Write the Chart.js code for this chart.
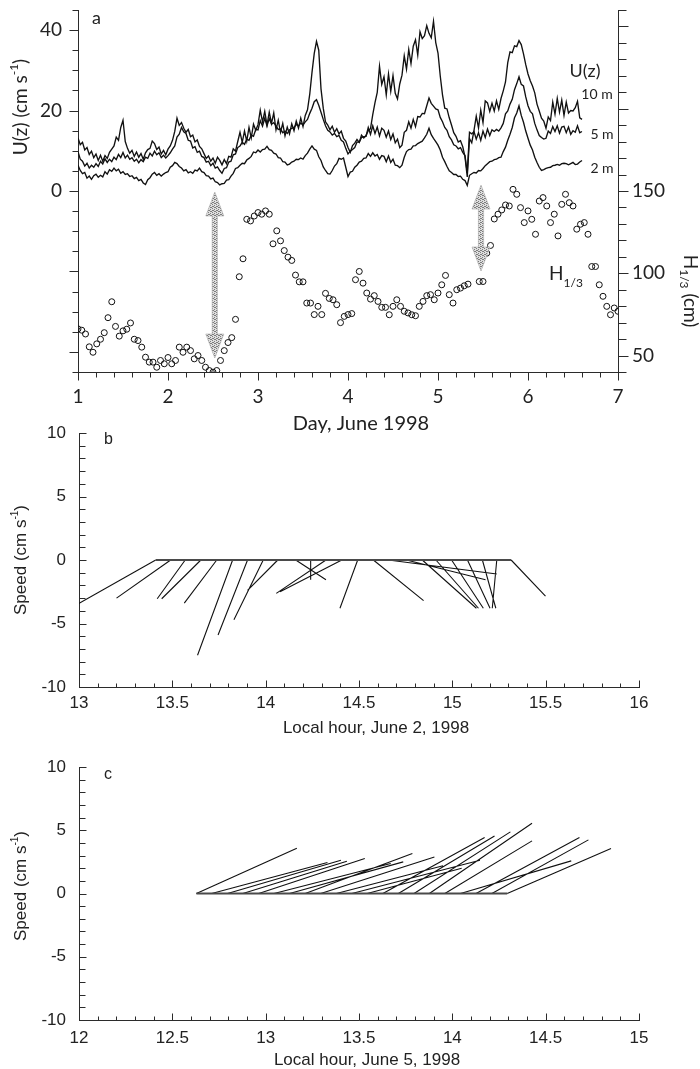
<!DOCTYPE html>
<html><head><meta charset="utf-8">
<script src="https://cdn.jsdelivr.net/npm/chart.js@4.4.1/dist/chart.umd.min.js"></script>
<style>
html,body{margin:0;padding:0;background:#fff;}
#wrap{position:relative;width:700px;height:1069px;overflow:hidden;background:#fff;}
.pane{position:absolute;left:0;width:700px;}
canvas{display:block;}
</style></head><body>
<div id="wrap">
<div class="pane" style="top:0;height:440px"><canvas id="ca" width="700" height="440"></canvas></div>
<div class="pane" style="top:420px;height:320px"><canvas id="cb" width="700" height="320"></canvas></div>
<div class="pane" style="top:750px;height:319px"><canvas id="cc" width="700" height="319"></canvas></div>
</div>
<script>
// ---------------- DATA ----------------
// Panel a: current speed U(z) (cm/s), sampled every 0.025 day from day 1.0
const uStartDay = 1.0, uStepDay = 0.025;
const u10m = [
13.2,11.5,12.1,10.2,10.8,9.1,9.9,8.3,
9.2,7.6,8.9,7.4,8.8,8.1,9.6,10.4,
11.2,13.4,12.6,15.8,17.6,12.3,10.6,9.4,
10.1,8.6,9.7,8.4,9.3,7.9,9.5,10.3,
10.6,12.4,11.8,10.3,10.9,9.2,10.1,9.0,
10.4,11.2,12.6,14.8,18.1,16.3,17.0,15.6,
14.6,15.3,13.5,13.9,12.2,12.7,11.1,10.5,
9.3,8.1,8.7,7.4,8.2,6.9,8.4,7.6,
6.5,7.8,6.8,8.6,8.4,10.5,9.9,12.3,
14.6,12.1,14.9,12.4,15.8,13.2,16.6,15.1,
16.5,20.1,17.2,19.8,16.4,19.6,16.8,19.4,
15.2,17.6,14.6,16.8,13.7,15.9,14.2,16.7,
15.0,17.4,15.6,18.1,16.0,18.8,20.2,24.1,
29.5,34.2,37.2,35.0,25.4,20.6,17.2,16.4,
15.2,16.1,14.6,15.5,14.2,14.9,13.1,12.4,
10.8,9.6,11.3,11.9,12.8,12.1,13.9,13.2,
13.8,15.0,15.5,19.0,22.0,24.5,31.0,26.5,
28.4,23.9,29.1,24.8,28.7,24.3,22.9,26.6,
28.8,33.6,30.3,35.2,31.7,36.0,37.6,33.8,
39.6,37.9,38.6,41.1,39.2,38.1,42.2,36.9,
34.3,28.6,23.9,20.6,20.4,18.2,16.4,14.5,
13.6,12.2,12.5,11.0,8.5,3.5,13.0,12.0,
15.1,18.6,15.7,20.1,17.0,22.4,21.9,19.8,
21.8,19.9,22.4,20.3,23.0,24.9,27.1,31.9,
34.6,34.4,36.1,35.9,37.4,36.4,34.1,31.4,
29.1,27.4,26.1,24.4,21.6,19.9,18.1,17.4,
15.6,18.4,17.5,22.1,19.1,23.0,19.6,22.6,
18.8,22.1,19.4,20.0,19.9,20.7,22.3,18.2,17.8
];
const u5m = [
9.8,7.9,7.4,6.2,6.9,5.7,6.4,5.9,
6.8,6.1,7.4,6.7,8.0,7.1,7.9,7.3,
8.4,7.8,9.1,8.3,9.6,8.2,8.9,7.9,
8.3,7.4,7.9,7.0,7.8,7.3,8.4,8.1,
9.4,8.7,9.9,9.0,9.5,8.3,8.9,8.2,
8.8,9.5,10.4,11.2,13.4,14.1,15.8,14.7,
14.3,12.6,12.4,10.7,11.0,9.6,9.9,8.6,
8.3,7.2,7.4,6.3,6.9,5.7,6.0,5.1,
4.4,5.6,5.8,7.2,7.4,9.0,9.2,10.8,
11.2,12.1,11.6,12.9,12.6,13.9,13.6,15.3,
15.2,17.5,16.1,18.1,16.2,18.0,16.6,17.0,
16.2,15.3,15.4,14.5,14.9,14.3,15.2,15.6,
15.8,16.5,16.2,16.9,16.4,17.2,17.8,19.3,
20.6,22.2,22.7,21.3,19.6,17.8,16.2,15.1,
14.7,13.9,14.3,13.5,13.8,12.6,12.2,10.6,
9.2,9.9,10.3,10.8,12.2,12.1,13.3,13.5,
13.6,15.8,14.1,16.2,14.3,15.9,13.7,15.6,
15.1,13.4,14.9,12.8,14.2,12.0,12.9,10.8,
11.4,14.6,15.1,17.2,15.6,17.8,16.0,18.5,
18.4,19.3,19.2,21.2,23.1,21.8,21.1,20.4,
20.2,18.3,17.2,15.8,15.1,13.5,12.7,11.5,
11.2,10.5,10.8,9.6,8.8,4.5,14.6,14.2,
14.8,12.9,14.5,12.6,14.9,13.3,15.4,13.8,
15.2,14.8,15.3,14.9,15.7,16.8,19.2,19.9,
21.6,22.8,25.2,26.7,28.4,26.5,26.1,23.4,
21.2,19.8,19.2,16.8,15.2,13.8,13.3,12.9,
13.1,14.9,14.3,16.0,14.8,16.2,14.4,15.9,
16.1,14.5,15.9,14.1,15.0,14.6,16.2,14.5,14.8
];
const u2m = [
6.4,5.1,4.3,4.6,3.2,3.7,2.9,3.8,
4.2,3.4,3.9,3.5,4.8,4.2,5.3,4.9,
5.7,5.0,5.4,4.4,4.8,4.1,4.3,3.6,
3.8,3.1,3.4,2.6,2.9,2.0,1.6,2.8,
3.3,4.2,4.6,3.9,4.3,3.7,4.2,4.6,
4.8,5.9,6.3,7.1,6.8,6.1,5.7,5.0,
5.3,4.5,4.8,4.4,5.2,5.0,5.7,4.8,
4.6,3.8,3.7,3.0,3.2,2.3,2.1,1.5,
1.8,1.9,2.7,2.8,3.7,4.4,5.6,5.8,
6.4,6.9,6.8,7.7,8.1,8.6,9.7,9.5,
10.2,9.7,10.3,10.4,11.1,10.3,10.1,9.4,
9.2,8.3,8.2,7.3,7.2,6.5,6.7,7.2,
7.4,7.9,7.8,8.2,7.9,8.8,9.4,10.4,
11.2,10.4,10.1,8.5,7.6,6.0,5.1,4.3,
4.2,5.1,6.2,6.8,8.1,7.9,8.2,5.9,
3.6,4.7,4.9,5.9,6.4,7.2,7.4,8.1,
8.2,9.3,8.6,9.5,8.7,9.1,7.9,8.8,
8.6,7.3,8.7,7.1,7.9,6.4,6.3,5.8,
6.4,8.4,9.8,10.3,10.4,11.2,11.3,11.8,
12.1,12.4,13.2,14.1,15.6,14.0,13.1,12.3,
11.4,10.2,8.4,7.3,6.1,5.0,4.6,4.1,
4.1,3.6,3.7,2.9,2.6,1.4,3.9,4.3,
4.6,4.5,5.1,5.0,5.6,6.3,6.8,7.3,
7.4,7.8,7.9,8.3,8.4,9.8,10.9,12.6,
14.1,15.8,18.2,19.4,21.2,18.8,17.1,14.9,
13.1,11.4,10.2,8.4,7.1,5.9,5.1,5.3,
5.6,5.8,5.9,6.3,6.4,6.6,6.4,6.8,
6.9,6.8,6.5,6.8,7.1,6.6,6.7,7.2,7.6
];
// Panel a: significant wave height H1/3 (cm), hourly from day 1.0 (null = no data)
const hStartDay = 1.0, hStepDay = 1/24;
const h13 = [
66.2,65.4,63.1,55.3,52.0,57.1,59.9,63.9,73.0,82.7,67.7,61.8,65.0,66.0,69.8,59.9,59.1,55.1,49.0,46.0,46.0,42.9,47.0,45.0,
48.8,45.0,47.0,55.1,52.0,55.1,53.0,48.0,50.0,47.0,42.9,40.9,39.9,40.9,47.0,53.0,57.9,60.9,72.0,97.9,108.8,132.8,131.8,134.8,
136.9,135.9,137.9,135.9,117.9,125.8,119.7,113.8,109.8,107.8,98.9,94.8,94.8,81.9,81.9,74.9,79.9,74.9,87.8,84.7,83.9,80.9,70.0,73.8,
74.9,75.5,96.1,101.1,94.0,88.0,84.3,86.4,82.9,79.3,79.3,74.8,79.9,83.9,79.9,76.9,75.9,74.8,74.2,79.9,82.9,86.4,87.0,83.9,
88.0,93.0,98.7,87.0,81.9,90.0,91.0,92.4,93.4,null,null,95.0,95.0,112.2,116.9,133.0,135.9,138.5,141.5,140.9,151.0,148.0,139.9,130.8,
137.9,132.8,123.7,143.9,146.0,140.9,130.8,135.9,122.7,141.9,148.0,142.9,140.9,126.8,129.8,130.8,123.7,104.1,104.1,93.0,86.0,79.9,74.8,78.9,
76.9
];
// Panel a: double arrows (day, H1/3 at top tip, H1/3 at bottom tip)
const arrowDay = [2.52, 5.478];
const arrowTopH = [149.4, 153.6];
const arrowBotH = [48.5, 101.4];

// Panel b: stick vectors, June 2 (origin hour on 0 line -> tip hour, tip speed)
const bHour0 = [13.411,13.491,13.569,13.653,13.738,13.823,13.903,13.987,14.065,14.161,14.241,14.323,14.408,14.493,14.577,14.657,14.754,14.839,14.912,14.996,15.081,15.161,15.238,15.315];
const bHour1 = [12.99,13.201,13.419,13.443,13.564,13.635,13.745,13.830,13.903,14.323,14.241,14.057,14.077,14.398,14.846,15.238,15.178,15.129,15.140,15.166,15.202,15.233,15.214,15.499];
const bSpeed1 = [-3.5,-3.0,-3.05,-3.05,-3.4,-7.5,-5.9,-4.7,-2.4,-1.55,-1.55,-2.63,-2.5,-3.8,-3.2,-1.1,-1.55,-3.8,-3.8,-3.8,-3.8,-3.8,-3.8,-2.85];
// Panel c: stick vectors, June 5
const cHour0 = [12.629,12.711,12.796,12.878,12.963,13.045,13.128,13.212,13.295,13.379,13.462,13.544,13.628,13.711,13.795,13.877,13.960,14.044,14.127,14.212,14.294];
const cHour1 = [13.167,13.331,13.403,13.435,13.531,13.670,13.737,13.786,13.904,13.950,14.148,14.050,14.173,14.226,14.311,14.427,14.427,14.637,14.681,14.729,14.850];
const cSpeed1 = [3.58,2.45,2.63,2.55,2.76,2.37,2.5,3.16,2.89,2.2,2.63,2.0,4.42,4.55,4.87,5.55,4.16,2.58,4.42,4.24,3.55];

// ---------------- STYLE ----------------
const AX = '#2b2b2b', INK = '#111', TXT = '#222';
const FA = "Lato, 'Open Sans', sans-serif";
const FB = "'Liberation Sans', Arial, sans-serif";
const near = q => Math.abs(q - Math.round(q)) < 1e-6;

// tick-mark specs (drawn through the scales)
const TICKS = {
  ca: { x:{out:true,minor:5,major:8,isMajor:v=>near(v)},
        y:{out:true,minor:6,major:9,isMajor:v=>near(v/20)},
        y2:{out:true,minor:8,major:10,isMajor:v=>near(v/50)} },
  cb: { x:{out:false,minor:4,major:7,isMajor:v=>near(v*2)},
        y:{out:false,minor:6,major:7,isMajor:v=>near(v/5)} },
  cc: { x:{out:false,minor:4,major:7,isMajor:v=>near(v*2)},
        y:{out:false,minor:6,major:7,isMajor:v=>near(v/5)} }
};
const tickMarks = {
  id:'tickMarks',
  afterDraw(chart){
    const spec = TICKS[chart.canvas.id]; if(!spec) return;
    const ctx = chart.ctx; ctx.save(); ctx.strokeStyle = AX; ctx.lineWidth = 1;
    for (const id in spec){
      const s = chart.scales[id], sp = spec[id], sg = sp.out ? 1 : -1;
      for (const t of s.ticks){
        const len = sp.isMajor(t.value) ? sp.major : sp.minor;
        const p = Math.round(s.getPixelForValue(t.value)) + 0.5;
        ctx.beginPath();
        if (s.position === 'left'){ const b = Math.round(s.right)+0.5; ctx.moveTo(b,p); ctx.lineTo(b - sg*len,p); }
        else if (s.position === 'right'){ const b = Math.round(s.left)+0.5; ctx.moveTo(b,p); ctx.lineTo(b + sg*len,p); }
        else { const b = Math.round(s.top)+0.5; ctx.moveTo(p,b); ctx.lineTo(p,b + sg*len); }
        ctx.stroke();
      }
    }
    ctx.restore();
  }
};

// rich text (for sub/superscripts), parts drawn in sequence
function drawRich(ctx, parts, x, y, rot, align, family){
  ctx.save(); ctx.translate(x,y); ctx.rotate(rot||0);
  ctx.fillStyle = TXT; ctx.textBaseline = 'middle';
  let total = 0;
  for (const p of parts){ ctx.font = 'normal ' + p.s + 'px ' + family; p.wd = ctx.measureText(p.t).width; total += p.wd; }
  let cx = align === 'center' ? -total/2 : 0;
  for (const p of parts){ ctx.font = 'normal ' + p.s + 'px ' + family; ctx.fillText(p.t, cx, p.dy||0); cx += p.wd; }
  ctx.restore();
}
const TEXTS = {
  ca: [
    {parts:[{t:'a',s:18}], x:92, y:18, rot:0, align:'left', f:FA},
    {parts:[{t:'U(z) (cm s',s:19},{t:'-1',s:12,dy:-7},{t:')',s:19}], x:21, y:107, rot:-Math.PI/2, align:'center', f:FA},
    {parts:[{t:'H',s:19},{t:'1/3',s:12,dy:6},{t:' (cm)',s:19}], x:690, y:291, rot:Math.PI/2, align:'center', f:FA},
    {parts:[{t:'Day, June 1998',s:20}], x:361, y:424, rot:0, align:'center', f:FA},
    {parts:[{t:'U(z)',s:18}], x:585, y:71, rot:0, align:'center', f:FA},
    {parts:[{t:'10 m',s:14}], x:597, y:94, rot:0, align:'center', f:FA},
    {parts:[{t:'5 m',s:14}], x:602, y:134, rot:0, align:'center', f:FA},
    {parts:[{t:'2 m',s:14}], x:602, y:168, rot:0, align:'center', f:FA},
    {parts:[{t:'H',s:19},{t:'1/3',s:12,dy:9}], x:549, y:274, rot:0, align:'left', f:FA}
  ],
  cb: [
    {parts:[{t:'b',s:16}], x:104, y:20, rot:0, align:'left', f:FB},
    {parts:[{t:'Speed (cm s',s:17},{t:'-1',s:10,dy:-6},{t:')',s:17}], x:21, y:140, rot:-Math.PI/2, align:'center', f:FB},
    {parts:[{t:'Local hour, June 2, 1998',s:17}], x:376, y:308, rot:0, align:'center', f:FB}
  ],
  cc: [
    {parts:[{t:'c',s:16}], x:104, y:25, rot:0, align:'left', f:FB},
    {parts:[{t:'Speed (cm s',s:17},{t:'-1',s:10,dy:-6},{t:')',s:17}], x:21, y:136, rot:-Math.PI/2, align:'center', f:FB},
    {parts:[{t:'Local hour, June 5, 1998',s:17}], x:367, y:310, rot:0, align:'center', f:FB}
  ]
};
const textPlugin = {
  id:'textPlugin',
  afterDraw(chart){
    const list = TEXTS[chart.canvas.id]; if(!list) return;
    for (const it of list) drawRich(chart.ctx, it.parts, it.x, it.y, it.rot, it.align, it.f);
  }
};

// stippled pattern for the arrows
function makePattern(ctx){
  const pc = document.createElement('canvas'); pc.width = 4; pc.height = 4;
  const g = pc.getContext('2d'); g.fillStyle = '#dedede'; g.fillRect(0,0,4,4);
  g.fillStyle = '#7e7e7e'; [[0,0],[2,1],[1,2],[3,3],[2,3],[0,2]].forEach(([a,b])=>g.fillRect(a,b,1,1));
  return ctx.createPattern(pc,'repeat');
}
const arrowPlugin = {
  id:'arrowPlugin',
  afterDatasetsDraw(chart){
    if (chart.canvas.id !== 'ca') return;
    const ctx = chart.ctx, xs = chart.scales.x, ys = chart.scales.y2;
    const pat = makePattern(ctx);
    ctx.save();
    for (let i=0;i<arrowDay.length;i++){
      const x = xs.getPixelForValue(arrowDay[i]), t = ys.getPixelForValue(arrowTopH[i]), b = ys.getPixelForValue(arrowBotH[i]);
      const hw = 9, hl = 24, sw = 2.6;
      ctx.beginPath();
      ctx.moveTo(x,t); ctx.lineTo(x+hw,t+hl); ctx.lineTo(x+sw,t+hl); ctx.lineTo(x+sw,b-hl); ctx.lineTo(x+hw,b-hl);
      ctx.lineTo(x,b); ctx.lineTo(x-hw,b-hl); ctx.lineTo(x-sw,b-hl); ctx.lineTo(x-sw,t+hl); ctx.lineTo(x-hw,t+hl); ctx.closePath();
      ctx.fillStyle = pat; ctx.fill();
      ctx.strokeStyle = '#ababab'; ctx.lineWidth = 0.6; ctx.stroke();
    }
    ctx.restore();
  }
};

Chart.register(tickMarks, textPlugin, arrowPlugin);

function axisBase(){ return {grid:{display:true,drawOnChartArea:false,drawTicks:false}, border:{display:true,color:AX,width:1}}; }
function fixSize(w,h){ return s => { if(w!=null) s.width = w; if(h!=null) s.height = h; s.paddingTop=0; s.paddingBottom=0; s.paddingLeft=0; s.paddingRight=0; }; }
const common = { responsive:false, animation:false, events:[], plugins:{legend:{display:false}, tooltip:{enabled:false}} };

// ---------------- PANEL A ----------------
const uSeries = (arr) => arr.map((v,i)=>({x: uStartDay + i*uStepDay, y: v}));
const hPoints = h13.map((v,i)=>({x: hStartDay + i*hStepDay, y: v})).filter(p=>p.y!==null);
new Chart(document.getElementById('ca'), {
  type:'line',
  data:{ datasets:[
    {label:'10 m', data:uSeries(u10m), yAxisID:'y', borderColor:INK, borderWidth:1.35, pointRadius:0, tension:0},
    {label:'5 m', data:uSeries(u5m), yAxisID:'y', borderColor:INK, borderWidth:1.35, pointRadius:0, tension:0},
    {label:'2 m', data:uSeries(u2m), yAxisID:'y', borderColor:INK, borderWidth:1.35, pointRadius:0, tension:0},
    {type:'scatter', label:'H1/3', data:hPoints, yAxisID:'y2', showLine:false, pointStyle:'circle', pointRadius:3, borderWidth:1, borderColor:INK, backgroundColor:'rgba(255,255,255,0)'}
  ]},
  options:Object.assign({}, common, {
    layout:{padding:{top:10,left:0,right:0,bottom:0}},
    scales:{
      x: Object.assign(axisBase(), {type:'linear', position:'bottom', min:1, max:7, afterFit:fixSize(null,68),
          ticks:{stepSize:0.2, maxTicksLimit:1000, autoSkip:false, maxRotation:0, padding:13, color:TXT, font:{family:FA,size:19},
                 callback:v=>near(v)?String(Math.round(v)):''}}),
      y: Object.assign(axisBase(), {type:'linear', position:'left', min:-45, max:45, afterFit:fixSize(78,null),
          ticks:{stepSize:5, maxTicksLimit:1000, autoSkip:false, padding:16, color:TXT, font:{family:FA,size:19},
                 callback:v=>(v===0||v===20||v===40)?String(v):''}}),
      y2: Object.assign(axisBase(), {type:'linear', position:'right', min:40, max:260, afterFit:fixSize(82,null),
          ticks:{stepSize:10, maxTicksLimit:1000, autoSkip:false, padding:14, color:TXT, font:{family:FA,size:19},
                 callback:v=>(v===50||v===100||v===150)?String(v):''}})
    }
  })
});

// ---------------- PANELS B, C ----------------
function stickData(h0,h1,v1){
  const d = [];
  for (let i=0;i<h0.length;i++){ d.push({x:h0[i],y:0}); d.push({x:h1[i],y:v1[i]}); d.push({x:h1[i],y:null}); }
  return d;
}
function stickChart(id, h0, h1, v1, xmin, xmax, padTop, xH, tickPad){
  new Chart(document.getElementById(id), {
    type:'line',
    data:{ datasets:[
      {label:'baseline', data:[{x:h0[0],y:0},{x:h0[h0.length-1],y:0}], borderColor:'#4a4a4a', borderWidth:1.8, pointRadius:0},
      {label:'velocity', data:stickData(h0,h1,v1), borderColor:INK, borderWidth:1.1, pointRadius:0, spanGaps:false, tension:0}
    ]},
    options:Object.assign({}, common, {
      layout:{padding:{top:padTop,left:0,right:61,bottom:0}},
      scales:{
        x: Object.assign(axisBase(), {type:'linear', position:'bottom', min:xmin, max:xmax, afterFit:fixSize(null,xH),
            ticks:{stepSize:0.1, maxTicksLimit:1000, autoSkip:false, maxRotation:0, padding:tickPad, color:TXT, font:{family:FB,size:17},
                   callback:v=>near(v*2)?String(Math.round(v*2)/2):''}}),
        y: Object.assign(axisBase(), {type:'linear', position:'left', min:-10, max:10, afterFit:fixSize(79,null),
            ticks:{stepSize:1, maxTicksLimit:1000, autoSkip:false, padding:13, color:TXT, font:{family:FB,size:17},
                   callback:v=>near(v/5)?String(Math.round(v)):''}})
      }
    })
  });
}
stickChart('cb', bHour0, bHour1, bSpeed1, 13, 16, 13, 53, 6);
stickChart('cc', cHour0, cHour1, cSpeed1, 12, 15, 17, 49, 8);
</script>
</body></html>
